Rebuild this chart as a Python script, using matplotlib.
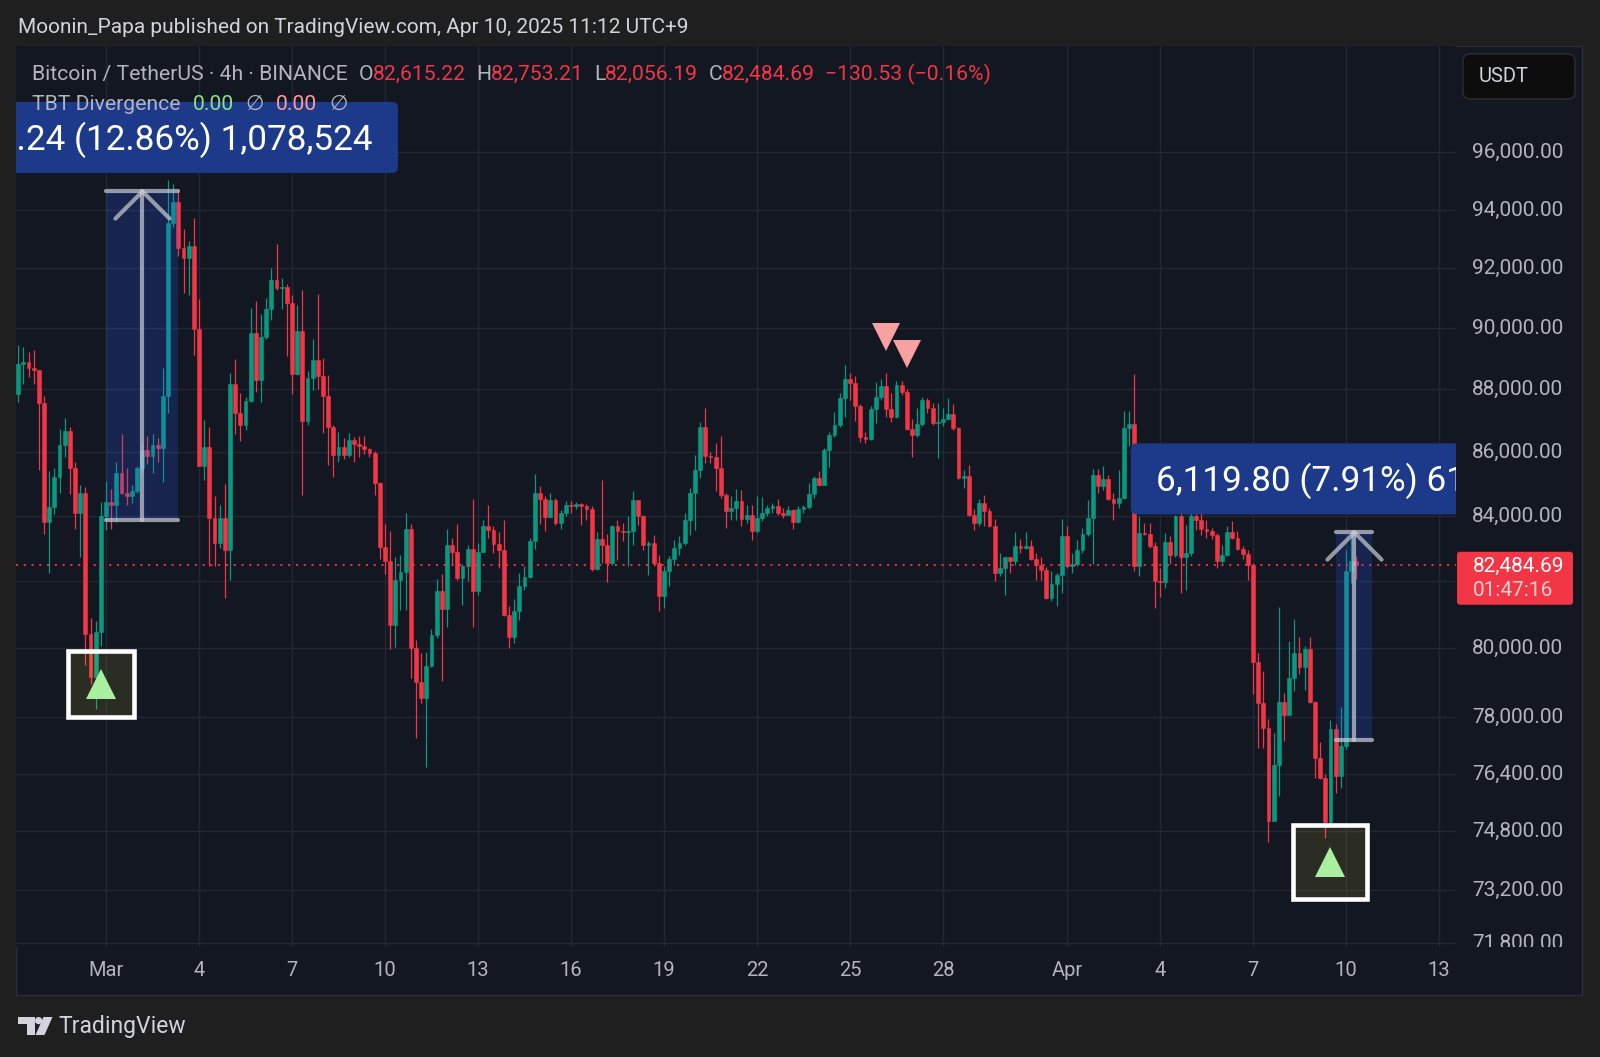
import numpy as np
import matplotlib
matplotlib.use("Agg")
import matplotlib.pyplot as plt
from matplotlib.patches import Rectangle, FancyBboxPatch, Polygon, Circle
from matplotlib.path import Path
from matplotlib.markers import MarkerStyle
from matplotlib.transforms import (Affine2D, Bbox, TransformedBbox, IdentityTransform,
                                   blended_transform_factory, offset_copy)
from matplotlib.ticker import NullLocator

plt.rcParams['font.family'] = ['Roboto', 'DejaVu Sans']

W, H = 1600, 1057
BG = '#1f1f1f'
PANEL = '#131722'
GRID = '#232734'
GREEN = '#089981'
RED = '#f23645'
TEXT = '#d1d4dc'
MUTED = '#b2b5be'
BOXBLUE = '#1d3a8a'
ARROW = (0.78, 0.79, 0.83, 0.72)

# ---- BTCUSDT 4h candles, Feb 26 05:00 -> Apr 10 09:00 (UTC+9) ----
first_open = 87860
last_open = 82615.22
closes = [
    88810, 88870, 88690, 88610, 87540, 83820, 84270, 85210, 86220, 86670,
    85490, 84100, 84710, 80430, 79170, 80480, 83990, 84430, 84320, 85320,
    84710, 84600, 84770, 85490, 86050, 85880, 86220, 86110, 87770, 93530,
    94270, 92680, 92330, 92740, 89980, 85540, 86160, 83930, 83170, 83930,
    82950, 88160, 87240, 86840, 87630, 89820, 88300, 89710, 90620, 91600,
    91340, 91380, 90830, 88500, 89910, 86970, 88360, 88950, 88420, 87790,
    86770, 85890, 86160, 85890, 86360, 86230, 86180, 86090, 85960, 85010,
    83050, 82610, 80690, 82050, 82290, 83580, 80000, 79030, 78570, 79500,
    80410, 81720, 81180, 83100, 82890, 82100, 82470, 82990, 81710, 82890,
    83670, 83550, 83130, 82940, 81000, 80350, 81120, 81870, 82140, 83230,
    84700, 84530, 83960, 84480, 83770, 84100, 84330, 84300, 84350, 84300,
    84220, 82370, 83300, 83090, 82540, 83670, 83520, 83490, 83540, 84480,
    83980, 83110, 83160, 82540, 81570, 82300, 82680, 83010, 83160, 83880,
    84700, 85430, 86790, 85860, 85820, 85480, 84650, 84140, 84240, 84450,
    83900, 84030, 83520, 83930, 84080, 84240, 84290, 84080, 84030, 84170,
    83800, 84210, 84270, 84680, 85170, 84970, 86050, 86540, 86860, 87710,
    88320, 88190, 87460, 86480, 86410, 87350, 87760, 88110, 87350, 87090,
    88120, 87920, 86710, 86530, 86880, 87650, 87390, 86920, 86960, 87030,
    87200, 86750, 85170, 85250, 84030, 83770, 84400, 84140, 83670, 82250,
    82400, 82730, 82600, 83060, 83010, 83080, 82680, 82500, 82330, 81500,
    81930, 82200, 83390, 82470, 82530, 82940, 83440, 83930, 85270, 84930,
    85140, 84520, 84400, 84560, 86750, 86880, 82470, 83470, 83450, 83060,
    82000, 81980, 83180, 82800, 83980, 82730, 82850, 83980, 83880, 83600,
    83520, 83420, 82610, 82810, 83490, 83320, 82980, 82840, 82500, 79590,
    78400, 77690, 75090, 76660, 78440, 78080, 79140, 79870, 79460, 79990,
    78440, 76830, 76290, 75050, 77660, 76340, 77180, 82300, 82615, 82484.69,
]
highs = [
    89450, 89390, 89210, 89270, 88630, 87770, 85380, 85490, 86730, 87070,
    86780, 85660, 84940, 84880, 80910, 80800, 84430, 85090, 84820, 85660,
    86550, 85490, 84940, 85540, 86270, 86500, 86550, 86440, 88690, 95020,
    94890, 94710, 93350, 92920, 93720, 90980, 87010, 86780, 84600, 84320,
    84990, 88520, 88980, 87880, 87740, 90680, 90910, 90450, 90990, 92000,
    92810, 91660, 91480, 91090, 90760, 91250, 88580, 89650, 91130, 89030,
    88470, 86860, 86640, 86420, 86580, 86470, 86490, 86490, 86120, 86030,
    85040, 83740, 83530, 82730, 82790, 84100, 83740, 80240, 79870, 79900,
    80580, 82080, 82210, 83600, 83310, 83760, 82520, 83100, 84530, 83160,
    83880, 84340, 83690, 83490, 83880, 81250, 81470, 82250, 82450, 83310,
    85290, 84930, 84600, 84690, 84550, 84180, 84460, 84460, 84430, 84400,
    84370, 84300, 83500, 85120, 83450, 83720, 83860, 83770, 83980, 84760,
    84500, 84030, 83210, 83420, 82810, 82450, 82780, 83260, 83370, 84080,
    84860, 85900, 86960, 87400, 86000, 86270, 86500, 84710, 84600, 84830,
    84790, 84340, 84340, 84600, 84580, 84340, 84400, 84520, 84240, 84290,
    84210, 84290, 84330, 85020, 85250, 85380, 86110, 86620, 87280, 87870,
    88780, 88520, 88430, 87520, 86640, 87460, 88240, 88320, 88540, 87870,
    88270, 88250, 88000, 87030, 87390, 87740, 87700, 87550, 87550, 87390,
    87700, 87520, 86800, 85420, 85580, 84210, 84520, 84630, 84240, 83900,
    82850, 82750, 82750, 83490, 83280, 83490, 83240, 82850, 82730, 82430,
    82300, 82250, 83900, 83690, 82870, 83240, 83620, 84500, 85470, 85470,
    85550, 85270, 84710, 85420, 87310, 87310, 88490, 83980, 83770, 83770,
    83180, 82400, 83470, 83390, 84030, 84600, 83720, 84620, 84460, 84250,
    83880, 83620, 83470, 83110, 83680, 83830, 83520, 83060, 82960, 82530,
    79870, 79330, 77950, 77550, 81220, 78700, 80210, 80860, 80340, 80060,
    80330, 78470, 77290, 76380, 77930, 77820, 78290, 82960, 83550, 82753.21,
]
lows = [
    87600, 88160, 88400, 88160, 85430, 83440, 82240, 84040, 84710, 85820,
    84660, 83600, 82730, 79530, 78960, 78240, 80060, 83550, 83600, 83820,
    84660, 84320, 84380, 84710, 85320, 85600, 85320, 85660, 85040, 87240,
    93410, 92430, 91160, 91100, 89100, 85540, 85100, 82460, 82460, 83000,
    81500, 82025, 86550, 86330, 86690, 87580, 87900, 87580, 89650, 90260,
    91260, 90620, 89090, 87850, 88470, 84640, 86860, 87960, 88010, 86580,
    85580, 85220, 85660, 85760, 85820, 85660, 85840, 85930, 85820, 84640,
    82680, 82210, 79980, 80050, 81130, 81130, 79150, 77420, 78400, 76600,
    79450, 80300, 79050, 80620, 82520, 82050, 81280, 82000, 80620, 81590,
    82900, 83320, 82860, 82400, 80950, 80000, 80150, 80850, 81750, 82100,
    82980, 83740, 83530, 83940, 83700, 83600, 83990, 84080, 84200, 83720,
    83860, 82300, 82350, 82560, 81980, 82500, 82650, 83210, 82450, 83090,
    83720, 82960, 82200, 82480, 81100, 81200, 81850, 82500, 82810, 83110,
    83420, 83570, 85170, 85640, 85640, 84760, 84550, 83630, 83880, 83880,
    83670, 83770, 83260, 83470, 83830, 83980, 84080, 84030, 83930, 84030,
    83590, 83770, 84080, 84210, 84550, 84910, 84940, 85530, 86460, 86800,
    87120, 87650, 86990, 86320, 86290, 86370, 86920, 87650, 87120, 86960,
    87070, 87810, 86690, 85840, 86480, 86820, 87230, 86850, 85800, 86820,
    87010, 86700, 85150, 84860, 83980, 83570, 83670, 83670, 83650, 82000,
    82150, 81600, 82250, 82500, 82850, 82980, 82650, 82030, 82050, 81470,
    81400, 81250, 81650, 82400, 82250, 82470, 82870, 83390, 82530, 84710,
    84790, 84500, 83880, 84240, 84520, 86170, 82300, 82150, 83410, 83010,
    81200, 81530, 81800, 82530, 82750, 81650, 81750, 82760, 83570, 83420,
    83320, 83270, 82400, 82560, 82760, 83270, 82960, 82660, 82050, 78660,
    77140, 77140, 74500, 75090, 75770, 77320, 78080, 78750, 79240, 78800,
    78420, 76290, 76260, 74620, 75000, 75860, 76000, 77090, 81950, 82056.19,
]
MAR1_BAR = 17   # index of the first bar of Mar 1

day_ticks = [0, 3, 6, 9, 12, 15, 18, 21, 24, 27, 31, 34, 37, 40, 43]
day_labels = ["Mar", "4", "7", "10", "13", "16", "19", "22", "25", "28",
              "Apr", "4", "7", "10", "13"]
price_ticks = [96000, 94000, 92000, 90000, 88000, 86000, 84000, 82000,
               80000, 78000, 76400, 74800, 73200, 71800]

# price range tools: (first bar, last bar), (low, high), label
measure_bars = [(17, 31), (255, 262)]
measure_prices = [(83866, 94651), (77368, 83488)]
measure_labels = ["10,785.24 (12.86%) 1,078,524", "6,119.80 (7.91%) 611,980"]

# TBT divergence signals
buy_bars = [16, 254]
buy_prices = [78970, 73970]
sell_bars = [168, 172]
sell_prices = [89710, 89140]

# ---- figure ----
fig = plt.figure(figsize=(W / 100, H / 100), dpi=100, facecolor=BG)
pix = Affine2D().scale(1, -1).translate(0, H)   # pixel (top-left origin) -> display
renderer = fig.canvas.get_renderer()

PLOT_BOTTOM = 946.5
fig.add_artist(Rectangle((16, 46), 1566, 949, transform=pix, facecolor=PANEL,
                         edgecolor='#2a2e39', lw=1, zorder=-10))

ax = fig.add_axes([16.3 / W, 1 - PLOT_BOTTOM / H, (1456 - 16.3) / W, (PLOT_BOTTOM - 46) / H])
ax.set_facecolor(PANEL)
ax.set_yscale('log')
ax.set_ylim(71700, 99830)
ax.set_xlim(-2.894, 43.55)
ax.set_xticks(day_ticks)
ax.set_yticks(price_ticks)
ax.yaxis.set_minor_locator(NullLocator())
ax.tick_params(length=0, labelleft=False, labelbottom=False)
ax.grid(True, color=GRID, lw=1)
for s in ax.spines.values():
    s.set_visible(False)

o = np.array([first_open] + closes[:-1], dtype=float)
o[-1] = last_open
c = np.array(closes, dtype=float)
hi = np.maximum(np.array(highs, dtype=float), np.maximum(o, c))
lo = np.minimum(np.array(lows, dtype=float), np.minimum(o, c))
x = (np.arange(len(c)) - MAR1_BAR) / 6.0
cols = np.where(c >= o, GREEN, RED)

ax.vlines(x, lo, hi, colors=cols, lw=0.9, zorder=2)
ax.bar(x, np.abs(c - o), bottom=np.minimum(o, c), width=0.125, color=cols,
       edgecolor=cols, linewidth=0.4, zorder=3)

ax.axhline(c[-1], color=RED, lw=1.4, ls=(0, (1, 3)), zorder=4)

# price range tools
chevron = MarkerStyle(Path([(-1, -1), (0, 0), (1, -1)],
                           [Path.MOVETO, Path.LINETO, Path.LINETO]),
                      joinstyle='round', capstyle='round')
for (b0, b1), (p_lo, p_hi), lab in zip(measure_bars, measure_prices, measure_labels):
    x0 = (b0 - MAR1_BAR) / 6.0
    x1 = (b1 - MAR1_BAR) / 6.0
    xm = (x0 + x1) / 2
    ax.add_patch(Rectangle((x0, p_lo), x1 - x0, p_hi - p_lo,
                           facecolor='#2962ff', alpha=0.2, lw=0, zorder=4))
    for p in (p_lo, p_hi):
        ax.plot([x0, x1], [p, p], color=ARROW, lw=3, solid_capstyle='round', zorder=5)
    ax.plot([xm, xm], [p_lo, p_hi], color=ARROW, lw=3, solid_capstyle='round', zorder=5)
    ax.plot([xm], [p_hi], marker=chevron, ms=39, mew=3, mec=ARROW, mfc='none', zorder=5)
    xd, yd = ax.transData.transform((xm, p_hi))
    cy = yd + 18 + 35.5
    t = ax.text(xd, cy - 12.5, lab, transform=IdentityTransform(), ha='center',
                va='baseline', color='white', fontsize=25.3, zorder=7, clip_on=True)
    w = t.get_window_extent(renderer).width
    ax.add_patch(FancyBboxPatch((xd - w / 2 - 25, cy - 35.5), w + 50, 71,
                                boxstyle='round,pad=0,rounding_size=6',
                                transform=IdentityTransform(), facecolor=BOXBLUE,
                                edgecolor='none', zorder=6))

# signals
for b, p, ms in zip(buy_bars, buy_prices, [48, 53]):
    xb = (b - MAR1_BAR) / 6.0
    ax.plot([xb], [p], marker='s', ms=ms, mfc=(1, 0.92, 0.23, 0.1), mec='white',
            mew=3.3, zorder=8)
    ax.plot([xb], [p], marker='^', ms=21, color='#a8f0a0', mew=0, zorder=9)
for b, p in zip(sell_bars, sell_prices):
    ax.plot([(b - MAR1_BAR) / 6.0], [p], marker='v', ms=20, color='#f7a1a1',
            mew=0, zorder=9)

# price scale labels (clipped at the time scale)
clip = TransformedBbox(Bbox.from_extents(1456 / W, 1 - PLOT_BOTTOM / H, 1582 / W, 1 - 46 / H),
                       fig.transFigure)
ytr = offset_copy(blended_transform_factory(fig.transFigure, ax.transData),
                  fig=fig, y=-5.7, units='dots')
for p in price_ticks:
    if p == 82000:
        continue
    t = ax.text(1472 / W, p, f"{p:,.2f}", transform=ytr, ha='left', va='baseline',
                color=MUTED, fontsize=15, clip_on=True)
    t.set_clip_box(clip)

xtr = blended_transform_factory(ax.transData, fig.transFigure)
for d, lab in zip(day_ticks, day_labels):
    ax.text(d, 1 - 971 / H, lab, transform=xtr, ha='center', va='center',
            color=MUTED, fontsize=14.5, clip_on=False)

# current price label
_, yp = ax.transData.transform((0, c[-1]))
fig.add_artist(FancyBboxPatch((1457, H - yp - 13.5), 116, 53, transform=pix,
                              boxstyle='round,pad=0,rounding_size=3',
                              facecolor=RED, edgecolor='none', zorder=5))
fig.text(1473, H - yp + 1, f"{c[-1]:,.2f}", transform=pix, color='white',
         fontsize=15, va='center', ha='left', zorder=6)
fig.text(1473, H - yp + 25, "01:47:16", transform=pix, color='#fbd0d4',
         fontsize=15, va='center', ha='left', zorder=6)

# currency box
fig.add_artist(FancyBboxPatch((1463, 54), 112, 45, transform=pix,
                              boxstyle='round,pad=0,rounding_size=7',
                              facecolor='#0d0d0d', edgecolor='#2e2e2e', lw=1, zorder=5))
fig.text(1479, 76.5, "USDT", transform=pix, color=TEXT, fontsize=14.5,
         va='center', ha='left', zorder=6)

# header
t = fig.text(18.4, 27.5, "Moonin_Papa published on TradingView.com, Apr 10, 2025 11:12 UTC+9",
             transform=pix, color=TEXT, fontsize=14.5, va='center', ha='left')
t.set_fontsize(14.5 * 668 / t.get_window_extent(renderer).width)

# legend rows
probe = fig.text(0, 0, "Bitcoin / TetherUS · 4h · BINANCE", fontsize=14, transform=pix)
leg_size = 14 * 316 / probe.get_window_extent(renderer).width
probe.remove()


def draw_runs(x0, y0, parts):
    xx = x0
    for s, col, gap in parts:
        xx += gap
        tt = fig.text(xx, y0, s, transform=pix, color=col, fontsize=leg_size,
                      va='center', ha='left', zorder=8)
        xx += tt.get_window_extent(renderer).width


draw_runs(32, 74.5, [
    ("Bitcoin / TetherUS · 4h · BINANCE", MUTED, 0),
    ("O", MUTED, 11), ("82,615.22", RED, 0),
    ("H", MUTED, 10), ("82,753.21", RED, 0),
    ("L", MUTED, 10), ("82,056.19", RED, 0),
    ("C", MUTED, 10), ("82,484.69", RED, 0),
    ("−130.53 (−0.16%)", RED, 10),
])
draw_runs(32, 104, [
    ("TBT Divergence", MUTED, 0),
    ("0.00", '#8ee08a', 12), ("∅", MUTED, 12),
    ("0.00", '#ff9c9c', 12), ("∅", MUTED, 12),
])

# TradingView logo
fig.add_artist(Polygon([(18, 1017), (34.5, 1017), (34.5, 1035), (27, 1035),
                        (27, 1024), (18, 1024)], closed=True, transform=pix,
                       facecolor=TEXT, edgecolor='none'))
fig.add_artist(Circle((38.6, 1020.6), 3.6, transform=pix, facecolor=TEXT,
                      edgecolor='none'))
fig.add_artist(Polygon([(43.5, 1017), (52.5, 1017), (44.5, 1035), (35.5, 1035)],
                       closed=True, transform=pix, facecolor=TEXT, edgecolor='none'))
fig.text(58, 1027, "TradingView", transform=pix, color=TEXT, fontsize=16.5,
         va='center', ha='left')

fig.savefig("out.png", dpi=100, facecolor=BG)
